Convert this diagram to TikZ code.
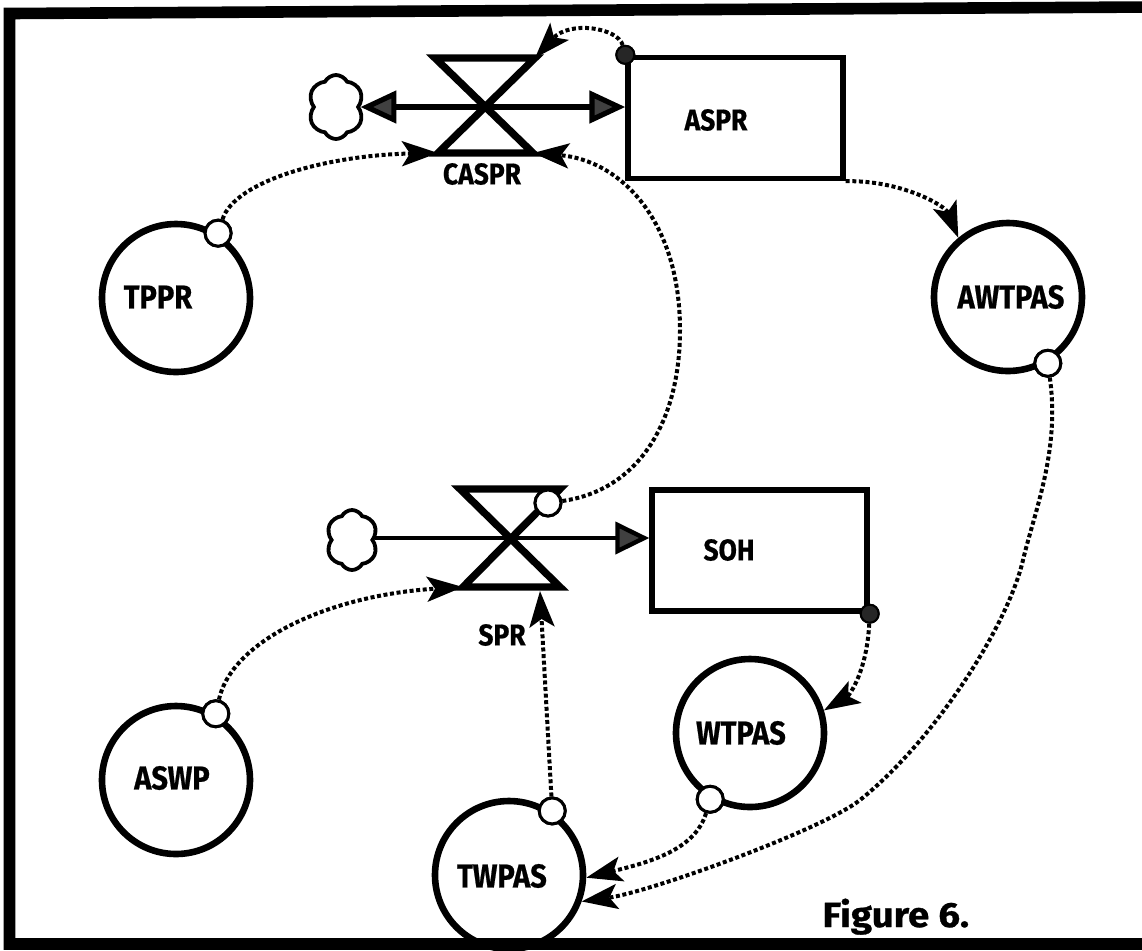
\documentclass[tikz,border=0pt]{standalone}
\usepackage{fontspec}
\newfontfamily\labfont[FakeStretch=0.88,FakeBold=0.6]{Fira Sans}
\newfontfamily\figfont[FakeStretch=1.1,FakeBold=0.8]{Fira Sans}
\usetikzlibrary{arrows.meta,shapes.symbols}
\tikzset{
  aux/.style={circle, draw, line width=3.3pt, minimum size=74pt, inner sep=0pt},
  smallc/.style={circle, draw, line width=1.5pt, fill=white, minimum size=13pt, inner sep=0pt},
  stockbox/.style={rectangle, draw, line width=2.7pt, minimum width=107.5pt, minimum height=60.5pt, inner sep=0pt},
  lab/.style={font=\labfont\bfseries\fontsize{15pt}{15pt}\selectfont, inner sep=0pt},
  auxlab/.style={font=\labfont\bfseries\fontsize{16.5pt}{16.5pt}\selectfont, inner sep=0pt},
  figlab/.style={font=\figfont\bfseries\fontsize{17.5pt}{17.5pt}\selectfont, inner sep=0pt},
  valve/.style={line width=3.7pt, line join=miter},
  flowline/.style={line width=2.6pt},
  info/.style={line width=2pt, dash pattern=on 2pt off 1.3pt, -{Stealth[length=18pt,width=12.5pt,inset=4pt]}},
  dotn/.style={circle, draw, line width=1pt, fill=black!85, minimum size=9pt, inner sep=0pt},
  cloudn/.style={cloud, draw, line width=1.9pt, cloud puffs=6, cloud puff arc=125, inner sep=0pt},
  frame/.style={line width=5.8pt}
}
\begin{document}
\begin{tikzpicture}[x=0.5pt, y=-0.5pt]
\useasboundingbox (0,0) rectangle (1142,950);
\clip (0,0) rectangle (1142,950);
% frame
\coordinate (ftr) at (1150,7);
\coordinate (ftl) at (9.5,13.5);
\coordinate (fbl) at (9.5,944);
\coordinate (fbr) at (1150,944);
\draw[frame] (ftr) -- (ftl) -- (fbl) -- (fbr);

% stocks
\node[stockbox] (aspr) at (735.5,118) {};
\node[stockbox] (soh) at (759.5,550.5) {};
\node[lab] (asprL) at (716,120) {ASPR};
\node[lab] (sohL) at (729,550) {SOH};

% auxiliaries
\node[aux] (tppr) at (176,298) {};
\node[aux] (aswp) at (176,780) {};
\node[aux] (awtpas) at (1008,297) {};
\node[aux] (wtpas) at (750,733) {};
\node[aux] (twpas) at (509,875) {};
\node[auxlab] (tpprL) at (158,297) {TPPR};
\node[auxlab] (aswpL) at (172,778) {ASWP};
\node[auxlab] (awtpasL) at (1011,297) {AWTPAS};
\node[auxlab] (wtpasL) at (741,733) {WTPAS};
\node[auxlab] (twpasL) at (502,876) {TWPAS};

% clouds
\node[cloudn, minimum width=28pt, minimum height=32pt] (cloud1) at (336,107) {};
\node[cloudn, minimum width=26pt, minimum height=30pt] (cloud2) at (352,540) {};

% flows
\draw[flowline, {Triangle[length=18pt,width=16pt,fill=black!75]}-{Triangle[length=18pt,width=16pt,fill=black!75]}] (cloud1.east) -- (cloud1.east -| aspr.west);
\draw[flowline, line width=2.2pt, -{Triangle[length=17pt,width=16pt,fill=black!75]}] (cloud2.east |- 0,538) -- (soh.west |- 0,538);

% valves
\coordinate (c1tl) at (435,58);
\coordinate (c1tr) at (535,58);
\coordinate (c1bl) at (438,153);
\coordinate (c1br) at (533,153);
\draw[valve] (c1tl) -- (c1tr) -- (c1bl) -- (c1br) -- cycle;
\node[lab] (casprL) at (482,174) {CASPR};

\coordinate (c2tl) at (460,489);
\coordinate (c2tr) at (560,489);
\coordinate (c2bl) at (463,587);
\coordinate (c2br) at (560,587);
\coordinate (c2in) at (540,591);
\draw[valve] (c2tl) -- (c2tr) -- (c2bl) -- (c2br) -- cycle;
\node[lab] (sprL) at (502,635) {SPR};

% small connector circles
\node[smallc] (tpprS) at (tppr.57) {};
\node[smallc] (aswpS) at (aswp.59) {};
\node[smallc] (twpasS) at (twpas.56) {};
\node[smallc] (wtpasS) at (wtpas.239) {};
\node[smallc] (awtpasS) at (awtpas.-59) {};
\node[smallc] (sprS) at (548,503) {};

% stock dots
\node[dotn] (asprdot) at (aspr.north west) {};
\node[dotn] (sohdot) at (soh.south east) {};

% information links
\draw[info] (asprdot) .. controls (618,28) and (570,20) .. (c1tr);
\draw[info] (tpprS) .. controls (235,180) and (330,155) .. (c1bl);
\draw[info] (sprS) .. controls (640,490) and (680,420) .. (680,330) .. controls (680,220) and (620,160) .. (c1br);
\draw[info] (aswpS) .. controls (232,640) and (330,595) .. (c2bl);
\draw[info] (twpasS) -- (c2in);
\draw[info] (sohdot) .. controls (867,670) and (850,695) .. (wtpas.17);
\draw[info] (aspr.south east) .. controls (900,180) and (945,205) .. (awtpas.130);
\draw[info] (wtpasS) .. controls (695,850) and (650,862) .. (twpas.-2);
\draw[info] (awtpasS) .. controls (1060,450) and (1035,510) .. (1023,560) .. controls (1008,625) and (935,740) .. (860,800) .. controls (822,830) and (650,892) .. (twpas.-20);

% redraw small circles and dots on top
\node[smallc] at (tpprS) {};
\node[smallc] at (aswpS) {};
\node[smallc] at (twpasS) {};
\node[smallc] at (wtpasS) {};
\node[smallc] at (awtpasS) {};
\node[smallc] at (sprS) {};
\node[dotn] at (asprdot) {};
\node[dotn] at (sohdot) {};

\node[figlab, anchor=base west] (figL) at (822,927) {Figure 6.};
\end{tikzpicture}
\end{document}
